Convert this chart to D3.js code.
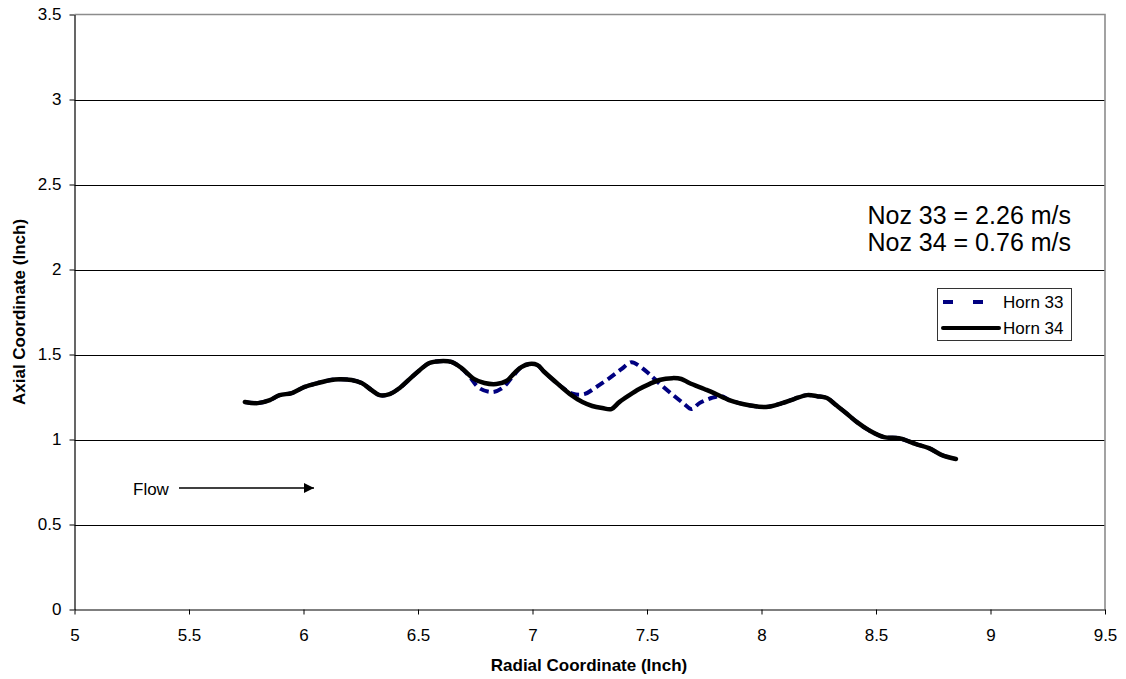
<!DOCTYPE html>
<html>
<head>
<meta charset="utf-8">
<script src="https://cdn.jsdelivr.net/npm/d3@7"></script>
<style>
  html, body { margin: 0; padding: 0; background: #fff; }
  svg { display: block; font-family: "Liberation Sans", Arial, sans-serif; }
</style>
</head>
<body>
<svg id="chart" width="1126" height="679"></svg>
<script>
// Horn 34 profile (radial, axial) in inches
const horn34X = [5.744, 5.800, 5.853, 5.896, 5.949, 6.005, 6.062, 6.114, 6.158, 6.210, 6.254, 6.297, 6.332, 6.376, 6.420, 6.463, 6.507, 6.550, 6.594, 6.646, 6.690, 6.746, 6.790, 6.842, 6.886, 6.921, 6.951, 6.986, 7.021, 7.052, 7.117, 7.170, 7.218, 7.261, 7.305, 7.344, 7.379, 7.423, 7.466, 7.510, 7.554, 7.610, 7.650, 7.685, 7.750, 7.793, 7.859, 7.902, 7.946, 8.020, 8.090, 8.142, 8.199, 8.243, 8.286, 8.325, 8.369, 8.417, 8.469, 8.535, 8.600, 8.675, 8.731, 8.788, 8.849];
const horn34Y = [1.221, 1.214, 1.232, 1.261, 1.273, 1.309, 1.332, 1.349, 1.355, 1.350, 1.332, 1.291, 1.261, 1.267, 1.303, 1.355, 1.408, 1.450, 1.461, 1.456, 1.420, 1.355, 1.332, 1.326, 1.344, 1.391, 1.426, 1.444, 1.438, 1.397, 1.320, 1.261, 1.220, 1.197, 1.185, 1.179, 1.220, 1.261, 1.297, 1.326, 1.350, 1.361, 1.356, 1.332, 1.297, 1.273, 1.232, 1.214, 1.202, 1.191, 1.214, 1.238, 1.261, 1.255, 1.244, 1.203, 1.156, 1.102, 1.055, 1.014, 1.008, 0.973, 0.949, 0.908, 0.885];

// Horn 33 profile (radial, axial) in inches
const horn33X = [5.744, 5.800, 5.853, 5.896, 5.949, 6.005, 6.062, 6.114, 6.158, 6.210, 6.254, 6.297, 6.332, 6.376, 6.420, 6.463, 6.507, 6.550, 6.594, 6.646, 6.690, 6.725, 6.768, 6.825, 6.869, 6.908, 6.951, 6.986, 7.021, 7.052, 7.117, 7.175, 7.226, 7.279, 7.336, 7.388, 7.432, 7.467, 7.510, 7.562, 7.619, 7.663, 7.694, 7.729, 7.781, 7.824, 7.859, 7.902, 7.946, 8.020, 8.090, 8.142, 8.199, 8.243, 8.286, 8.325, 8.369, 8.417, 8.469, 8.535, 8.600, 8.675, 8.731, 8.788, 8.849];
const horn33Y = [1.221, 1.214, 1.232, 1.261, 1.273, 1.309, 1.332, 1.349, 1.355, 1.350, 1.332, 1.291, 1.261, 1.267, 1.303, 1.355, 1.408, 1.450, 1.461, 1.456, 1.420, 1.370, 1.302, 1.279, 1.303, 1.361, 1.426, 1.444, 1.438, 1.397, 1.320, 1.270, 1.267, 1.309, 1.361, 1.414, 1.455, 1.432, 1.385, 1.320, 1.256, 1.209, 1.179, 1.214, 1.244, 1.255, 1.232, 1.214, 1.202, 1.191, 1.214, 1.238, 1.261, 1.255, 1.244, 1.203, 1.156, 1.102, 1.055, 1.014, 1.008, 0.973, 0.949, 0.908, 0.885];

const xTicks = [5, 5.5, 6, 6.5, 7, 7.5, 8, 8.5, 9, 9.5];
const yTicks = [0, 0.5, 1, 1.5, 2, 2.5, 3, 3.5];
const seriesNames = ["Horn 33", "Horn 34"];
const noteLines = ["Noz 33 = 2.26 m/s", "Noz 34 = 0.76 m/s"];

const svg = d3.select("#chart");
const plot = { left: 74.5, right: 1105, top: 14.5, bottom: 609.5 };

const x = d3.scaleLinear().domain([5, 9.5]).range([plot.left, plot.right]);
const y = d3.scaleLinear().domain([0, 3.5]).range([plot.bottom, plot.top]);

// horizontal gridlines
svg.append("g")
  .selectAll("line")
  .data(yTicks.filter(v => v > 0 && v < 3.5))
  .join("line")
  .attr("x1", plot.left).attr("x2", plot.right)
  .attr("y1", d => Math.round(y(d)) + 0.5).attr("y2", d => Math.round(y(d)) + 0.5)
  .attr("stroke", "#000").attr("stroke-width", 1);

// plot frame (top and right)
svg.append("path")
  .attr("d", `M${plot.left},${plot.top}H${plot.right}V${plot.bottom}`)
  .attr("fill", "none").attr("stroke", "#8c8c8c").attr("stroke-width", 1.6);

// axes
const xAxis = d3.axisBottom(x).tickValues(xTicks).tickFormat(d3.format("")).tickSizeInner(5).tickSizeOuter(0).tickPadding(14);
const yAxis = d3.axisLeft(y).tickValues(yTicks).tickFormat(d3.format("")).tickSizeInner(5).tickSizeOuter(0).tickPadding(8);

const gx = svg.append("g").attr("transform", `translate(0,${plot.bottom})`).call(xAxis);
const gy = svg.append("g").attr("transform", `translate(${plot.left},0)`).call(yAxis);
[gx, gy].forEach(g => {
  g.selectAll("path.domain").attr("stroke", "#000").attr("stroke-width", 1.2);
  g.selectAll(".tick line").attr("stroke", "#000");
  g.selectAll(".tick text").attr("fill", "#000").style("font-size", "17px").style("font-family", "Liberation Sans, Arial, sans-serif");
});

// axis titles
svg.append("text")
  .attr("x", 589).attr("y", 671)
  .attr("text-anchor", "middle")
  .style("font-size", "17px").style("font-weight", "bold")
  .text("Radial Coordinate (Inch)");
svg.append("text")
  .attr("transform", "translate(25,312) rotate(-90)")
  .attr("text-anchor", "middle")
  .style("font-size", "17px").style("font-weight", "bold")
  .text("Axial Coordinate (Inch)");

// series lines
const line = d3.line().x(d => x(d[0])).y(d => y(d[1])).curve(d3.curveCatmullRom.alpha(0.5));
const h33 = horn33X.map((v, i) => [v, horn33Y[i]]);
const h34 = horn34X.map((v, i) => [v, horn34Y[i]]);

svg.append("path").datum(h33)
  .attr("d", line)
  .attr("fill", "none").attr("stroke", "#000080").attr("stroke-width", 4)
  .attr("stroke-dasharray", "9,5");
svg.append("path").datum(h34)
  .attr("d", line)
  .attr("fill", "none").attr("stroke", "#000").attr("stroke-width", 4.5)
  .attr("stroke-linecap", "round").attr("stroke-linejoin", "round");

// legend
const lg = svg.append("g");
lg.append("rect").attr("x", 937.5).attr("y", 288.5).attr("width", 134).attr("height", 52)
  .attr("fill", "#fff").attr("stroke", "#333").attr("stroke-width", 1);
lg.append("line").attr("x1", 943).attr("x2", 983).attr("y1", 302).attr("y2", 302)
  .attr("stroke", "#000080").attr("stroke-width", 4).attr("stroke-dasharray", "10,20");
lg.append("line").attr("x1", 943).attr("x2", 999).attr("y1", 328).attr("y2", 328)
  .attr("stroke", "#000").attr("stroke-width", 4).attr("stroke-linecap", "round");
lg.selectAll("text.lab").data(seriesNames).join("text")
  .attr("class", "lab")
  .attr("x", 1003).attr("y", (d, i) => 308 + i * 26)
  .style("font-size", "17px")
  .text(d => d);

// velocity note
svg.append("g").selectAll("text").data(noteLines).join("text")
  .attr("x", 1071).attr("y", (d, i) => 224 + i * 27)
  .attr("text-anchor", "end")
  .style("font-size", "25px")
  .text(d => d);

// flow direction arrow
svg.append("defs").append("marker")
  .attr("id", "arrowhead").attr("viewBox", "0 0 10 10")
  .attr("refX", 10).attr("refY", 5)
  .attr("markerWidth", 10).attr("markerHeight", 10)
  .attr("markerUnits", "userSpaceOnUse")
  .attr("orient", "auto")
  .append("path").attr("d", "M0,0L10,5L0,10Z").attr("fill", "#000");
svg.append("text").attr("x", 133).attr("y", 495).style("font-size", "17px").text("Flow");
svg.append("line").attr("x1", 179).attr("x2", 314).attr("y1", 488).attr("y2", 488)
  .attr("stroke", "#000").attr("stroke-width", 1.5).attr("marker-end", "url(#arrowhead)");
</script>
</body>
</html>
